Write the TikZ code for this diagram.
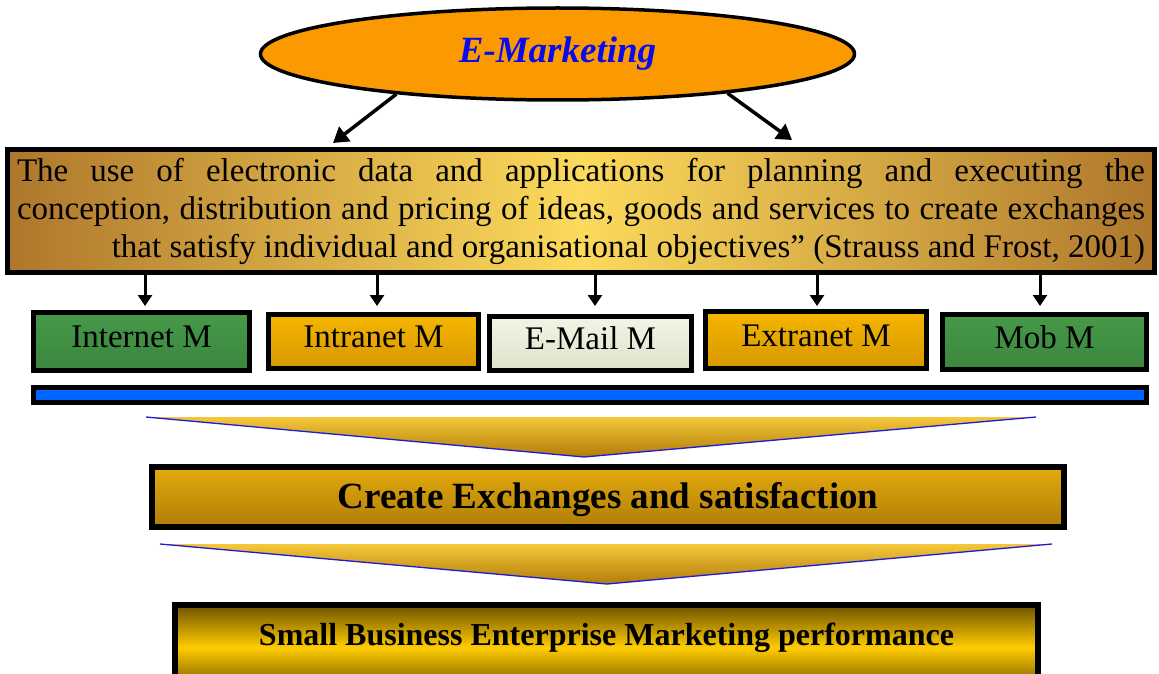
\documentclass[tikz,border=0pt]{standalone}
\usepackage{fontspec}
\setmainfont{Liberation Serif}
\usetikzlibrary{arrows.meta,shapes.geometric}
\definecolor{emorange}{HTML}{FA9A00}
\definecolor{emblue}{HTML}{0A0AEE}
\definecolor{defedge}{HTML}{AE772C}
\definecolor{defmid}{HTML}{FCDA5C}
\definecolor{greentop}{HTML}{47994A}
\definecolor{greenbot}{HTML}{3A863D}
\definecolor{orangetop}{HTML}{F6B500}
\definecolor{orangebot}{HTML}{D69800}
\definecolor{mailtop}{HTML}{F2F5E6}
\definecolor{mailbot}{HTML}{DCE2C8}
\definecolor{barblue}{HTML}{0066FF}
\definecolor{goldtop}{HTML}{E4AA0C}
\definecolor{goldbot}{HTML}{AF7D08}
\definecolor{sbdark}{HTML}{6E5200}
\definecolor{sbmid}{HTML}{FFCC00}
\definecolor{tritop}{HTML}{F5C83A}
\definecolor{tribot}{HTML}{B27C08}
\definecolor{triedge}{HTML}{1A1AE0}
\tikzset{
  mbox/.style={draw=black, line width=5pt, inner sep=0pt, text=black,
    font=\fontsize{33}{38}\selectfont, text height=25pt, text depth=13pt},
  greenbox/.style={mbox, top color=greentop, bottom color=greenbot},
  orangebox/.style={mbox, top color=orangetop, bottom color=orangebot},
  mailbox/.style={mbox, top color=mailtop, bottom color=mailbot},
  bigarrow/.style={draw=black, line width=3.5pt, -{Triangle[length=15pt,width=18pt]}},
  smallarrow/.style={draw=black, line width=3pt, -{Triangle[length=11pt,width=14pt]}},
  funnel/.style={top color=tritop, bottom color=tribot},
  funneledge/.style={draw=triedge, line width=1.3pt},
}
\begin{document}
\begin{tikzpicture}[x=1pt,y=-1pt]
\useasboundingbox (0,0) rectangle (1159,674);
\clip (0,0) rectangle (1159,674);

% ellipse
\node[ellipse, draw=black, line width=3.5pt, fill=emorange, minimum width=594, minimum height=92,
  inner sep=0pt, text=emblue, font=\fontsize{37}{40}\selectfont\bfseries\itshape]
  (em) at (557.5,54) {E-Marketing};

% definition box
\node[draw=black, line width=5pt, inner sep=0pt, minimum width=1147, minimum height=123,
  left color=defedge, right color=defedge, middle color=defmid,
  font=\fontsize{33}{38}\selectfont]
  (def) at (581,211) {\parbox{1128pt}{%
    \makebox[1128pt][s]{The use of electronic data and applications for planning and executing the}\\
    \makebox[1128pt][s]{conception, distribution and pricing of ideas, goods and services to create exchanges}\\
    \makebox[1128pt][r]{that satisfy individual and organisational objectives” (Strauss and Frost, 2001)}}};

\coordinate (t1) at (333,143);
\coordinate (t2) at (792,140);
\draw[bigarrow] (em.194) -- (t1);
\draw[bigarrow] (em.347.5) -- (t2);

% channel boxes
\node[greenbox, minimum width=216, minimum height=58] (b1) at (141.5,341.5) {Internet M};
\node[orangebox, minimum width=210, minimum height=54] (b2) at (373.5,341.5) {Intranet M};
\node[mailbox, minimum width=202, minimum height=54] (b3) at (590.5,343.5) {E-Mail M};
\node[orangebox, minimum width=221, minimum height=57] (b4) at (816,340) {Extranet M};
\node[greenbox, minimum width=204, minimum height=55] (b5) at (1044.5,342) {Mob M};

\coordinate (a1) at (145,306);
\coordinate (a2) at (377,306);
\coordinate (a3) at (595,306);
\coordinate (a4) at (817,306);
\coordinate (a5) at (1040,306);
\foreach \i in {1,...,5} {\draw[smallarrow] (def.south -| a\i) -- (a\i);}

% blue bar
\node[draw=black, line width=5pt, fill=barblue, inner sep=0pt, minimum width=1113, minimum height=15]
  (bar) at (590,395) {};

% funnel 1
\coordinate (f1l) at (146,417);
\coordinate (f1r) at (1036,417);
\coordinate (f1a) at (584,457);
\path[funnel] (f1l) -- (f1r) -- (f1a) -- cycle;
\draw[funneledge] (f1l) -- (f1a) -- (f1r);

% create box
\node[draw=black, line width=6pt, inner sep=0pt, minimum width=912, minimum height=60,
  top color=goldtop, bottom color=goldbot, text height=26pt, text depth=4pt,
  font=\fontsize{37}{40}\selectfont\bfseries]
  (cx) at (608,497) {Create Exchanges and satisfaction};

% funnel 2
\coordinate (f2l) at (160,544);
\coordinate (f2r) at (1052,544);
\coordinate (f2a) at (607,584);
\path[funnel] (f2l) -- (f2r) -- (f2a) -- cycle;
\draw[funneledge] (f2l) -- (f2a) -- (f2r);

% small business box
\node[draw=black, line width=6pt, inner sep=0pt, minimum width=863, minimum height=85,
  top color=sbdark, bottom color=sbdark, middle color=sbmid, text height=22pt, text depth=27pt,
  font=\fontsize{32}{36}\selectfont\bfseries]
  (sb) at (606.5,647.5) {Small Business Enterprise Marketing performance};
\end{tikzpicture}
\end{document}
